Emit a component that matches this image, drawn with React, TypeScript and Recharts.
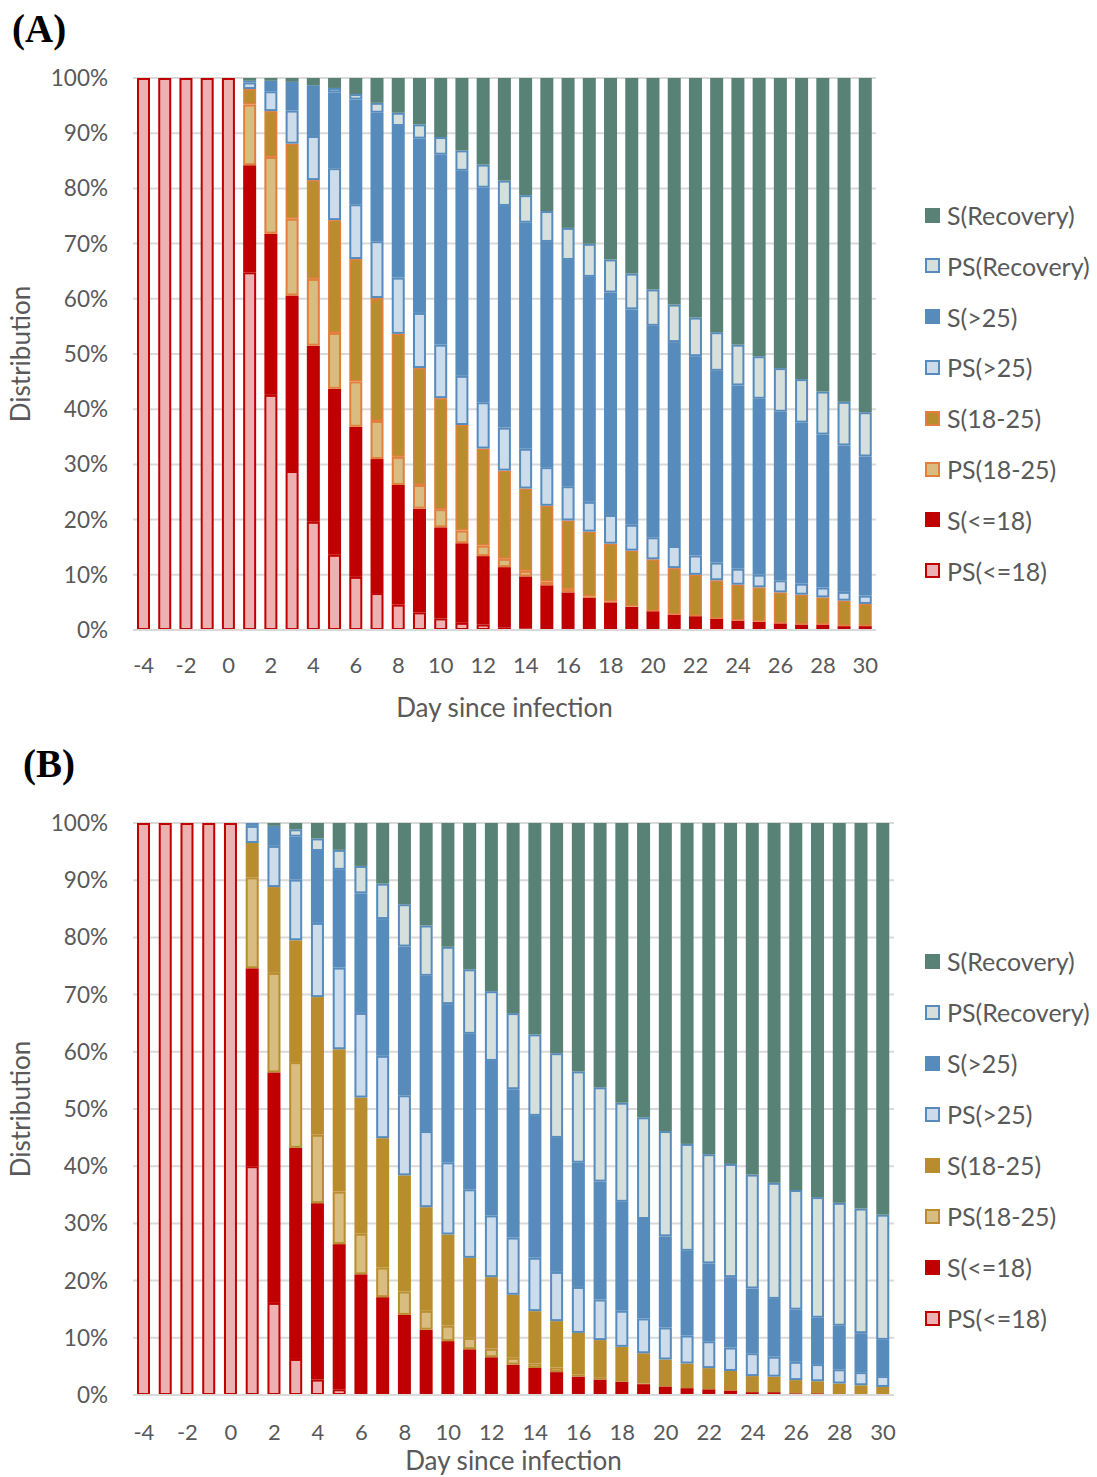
import React from "react";
import { BarChart, Bar, XAxis, YAxis, CartesianGrid } from "recharts";

// Day since infection (categories)
const DAYS = [-4, -3, -2, -1, 0, 1, 2, 3, 4, 5, 6, 7, 8, 9, 10, 11, 12, 13, 14, 15, 16, 17, 18, 19, 20, 21, 22, 23, 24, 25, 26, 27, 28, 29, 30];

const Y_TICKS = [0, 0.1, 0.2, 0.3, 0.4, 0.5, 0.6, 0.7, 0.8, 0.9, 1];

// Panel A, share (%) per day
const A_PS_LE18 = [100, 100, 100, 100, 100, 64.8, 42.6, 28.8, 19.6, 13.6, 9.6, 6.7, 4.6, 3.2, 2.1, 1.3, 1.0, 0.5, 0.3, 0.1, 0, 0, 0, 0, 0, 0, 0, 0, 0, 0, 0, 0, 0, 0, 0];
const A_S_LE18 = [0, 0, 0, 0, 0, 19.4, 29.2, 31.8, 31.9, 30.0, 27.1, 24.3, 21.7, 18.8, 16.5, 14.4, 12.4, 10.9, 9.4, 8.0, 6.8, 5.8, 5.0, 4.2, 3.4, 2.8, 2.5, 2.0, 1.7, 1.5, 1.2, 1.0, 1.0, 0.7, 0.7];
const A_PS_18_25 = [0, 0, 0, 0, 0, 11.0, 13.9, 13.9, 12.1, 10.1, 8.2, 6.9, 5.1, 4.3, 3.3, 2.3, 1.9, 1.5, 1.0, 0.7, 0.6, 0.3, 0.2, 0.1, 0, 0, 0, 0, 0, 0, 0, 0, 0, 0, 0];
const A_S_18_25 = [0, 0, 0, 0, 0, 2.8, 8.3, 13.6, 17.9, 20.4, 22.1, 22.3, 22.3, 21.2, 20.1, 19.1, 17.6, 16.0, 14.9, 13.7, 12.4, 11.7, 10.4, 10.1, 9.4, 8.4, 7.5, 7.0, 6.5, 6.2, 5.6, 5.4, 4.9, 4.6, 4.0];
const A_PS_GT25 = [0, 0, 0, 0, 0, 1.2, 3.6, 6.0, 8.0, 9.4, 9.9, 10.3, 10.2, 10.0, 9.7, 8.9, 8.4, 7.8, 7.2, 7.0, 6.2, 5.4, 5.2, 4.7, 4.0, 4.0, 3.5, 3.2, 2.9, 2.3, 2.2, 2.0, 1.8, 1.6, 1.5];
const A_S_GT25 = [0, 0, 0, 0, 0, 0.3, 1.9, 5.2, 9.2, 13.7, 18.9, 23.3, 27.5, 31.6, 34.4, 37.1, 38.9, 40.2, 40.9, 40.8, 40.9, 40.7, 40.2, 39.1, 38.3, 36.9, 36.1, 34.7, 33.2, 31.8, 30.5, 29.2, 27.7, 26.5, 25.1];
const A_PS_REC = [0, 0, 0, 0, 0, 0, 0, 0, 0, 0.8, 1.0, 1.8, 2.4, 2.6, 3.2, 3.7, 4.2, 4.6, 5.0, 5.6, 5.8, 6.0, 6.0, 6.5, 6.6, 6.8, 7.0, 7.0, 7.4, 7.7, 7.9, 7.9, 7.8, 7.9, 8.0];
const A_S_REC = [0, 0, 0, 0, 0, 0.5, 0.5, 0.7, 1.3, 1.8, 2.9, 4.5, 6.3, 8.4, 10.7, 13.1, 15.7, 18.6, 21.2, 24.1, 27.1, 30.0, 32.8, 35.5, 38.3, 41.0, 43.4, 46.0, 48.3, 50.3, 52.5, 54.6, 56.8, 58.6, 60.3];

// Panel B, share (%) per day
const B_PS_LE18 = [100, 100, 100, 100, 100, 40.0, 16.1, 6.3, 2.7, 1.0, 0, 0, 0, 0, 0, 0, 0, 0, 0, 0, 0, 0, 0, 0, 0, 0, 0, 0, 0, 0, 0, 0, 0, 0, 0];
const B_S_LE18 = [0, 0, 0, 0, 0, 34.6, 40.3, 36.9, 30.9, 25.4, 21.1, 17.1, 14.0, 11.4, 9.4, 8.0, 6.6, 5.3, 4.7, 4.0, 3.2, 2.7, 2.3, 1.9, 1.5, 1.2, 1.0, 0.8, 0.5, 0.5, 0.3, 0.3, 0, 0, 0];
const B_PS_18_25 = [0, 0, 0, 0, 0, 15.9, 17.4, 15.0, 12.0, 9.2, 7.1, 5.2, 4.1, 3.3, 2.7, 2.0, 1.5, 1.2, 0.8, 0.8, 0.4, 0.3, 0, 0.1, 0, 0, 0, 0, 0, 0, 0, 0, 0, 0, 0];
const B_S_18_25 = [0, 0, 0, 0, 0, 6.0, 15.0, 21.3, 24.1, 24.9, 23.8, 22.6, 20.3, 18.1, 15.9, 14.0, 12.5, 11.0, 9.1, 8.1, 7.2, 6.6, 6.1, 5.3, 4.7, 4.3, 3.7, 3.4, 2.8, 2.7, 2.3, 2.1, 2.0, 1.7, 1.4];
const B_PS_GT25 = [0, 0, 0, 0, 0, 3.0, 7.2, 10.6, 13.0, 14.3, 14.8, 14.4, 14.0, 13.3, 12.6, 12.0, 10.8, 10.0, 9.3, 8.6, 8.0, 7.1, 6.3, 6.1, 5.6, 4.9, 4.7, 4.1, 4.0, 3.5, 3.2, 3.0, 2.5, 2.3, 1.9];
const B_S_GT25 = [0, 0, 0, 0, 0, 0.5, 3.5, 7.5, 12.6, 17.1, 20.9, 23.9, 26.0, 27.1, 27.6, 27.2, 27.0, 25.9, 24.7, 23.4, 21.6, 20.6, 19.0, 17.4, 15.9, 14.8, 13.6, 12.3, 11.3, 10.1, 9.1, 8.1, 7.6, 6.8, 6.3];
const B_PS_REC = [0, 0, 0, 0, 0, 0, 0, 1.3, 2.2, 3.5, 4.8, 6.2, 7.4, 8.8, 10.0, 11.3, 12.2, 13.3, 14.2, 14.8, 15.9, 16.5, 17.3, 17.8, 18.4, 18.7, 19.1, 19.8, 19.9, 20.3, 20.9, 21.1, 21.5, 21.8, 21.8];
const B_S_REC = [0, 0, 0, 0, 0, 0, 0.5, 1.1, 2.7, 4.7, 7.5, 10.6, 14.2, 17.9, 21.6, 25.6, 29.4, 33.2, 36.8, 40.2, 43.2, 46.2, 48.8, 51.5, 53.8, 56.1, 57.9, 59.6, 61.4, 62.9, 64.1, 65.4, 66.4, 67.4, 68.2];

const RED = "#c00000";
const PINK = "#eeb1b1";
const BLUE = "#568bbc";
const LIGHT_BLUE = "#cddceb";
const GREEN = "#588276";
const GREY_GREEN = "#d5e0dd";
const ORANGE = "#e27f3d";
const GOLD = "#b98c2d";
const TAN = "#d9bc80";

const TEXT = "#595959";
const SANS = "Lato, 'Open Sans', sans-serif";

type Series = { key: string; name: string; fill: string; border?: string; bw?: number };

// bottom-to-top stacking order
const SERIES_A: Series[] = [
  { key: "psLe18", name: "PS(<=18)", fill: PINK, border: RED, bw: 2 },
  { key: "sLe18", name: "S(<=18)", fill: RED },
  { key: "ps1825", name: "PS(18-25)", fill: TAN, border: ORANGE, bw: 2 },
  { key: "s1825", name: "S(18-25)", fill: GOLD, border: ORANGE, bw: 1.5 },
  { key: "psGt25", name: "PS(>25)", fill: LIGHT_BLUE, border: BLUE, bw: 2 },
  { key: "sGt25", name: "S(>25)", fill: BLUE },
  { key: "psRec", name: "PS(Recovery)", fill: GREY_GREEN, border: BLUE, bw: 2 },
  { key: "sRec", name: "S(Recovery)", fill: GREEN },
];

const SERIES_B: Series[] = SERIES_A.map((s) => {
  if (s.key === "ps1825") return { ...s, border: GOLD };
  if (s.key === "s1825") return { ...s, border: undefined, bw: undefined };
  return s;
});

const buildRows = (cols: Record<string, number[]>) =>
  DAYS.map((d, i) => {
    const row: Record<string, string | number> = { day: String(d) };
    Object.keys(cols).forEach((k) => (row[k] = cols[k][i]));
    return row;
  });

const dataA = buildRows({
  psLe18: A_PS_LE18, sLe18: A_S_LE18, ps1825: A_PS_18_25, s1825: A_S_18_25,
  psGt25: A_PS_GT25, sGt25: A_S_GT25, psRec: A_PS_REC, sRec: A_S_REC,
});
const dataB = buildRows({
  psLe18: B_PS_LE18, sLe18: B_S_LE18, ps1825: B_PS_18_25, s1825: B_S_18_25,
  psGt25: B_PS_GT25, sGt25: B_S_GT25, psRec: B_PS_REC, sRec: B_S_REC,
});

// segment with its border drawn inside the bar outline
const boxShape = (s: Series) => (props: any) => {
  const { x, y, width, height } = props;
  if (!height || height <= 0.05 || !width) return <g />;
  if (!s.border) return <rect x={x} y={y} width={width} height={height} fill={s.fill} />;
  const bw = s.bw || 2;
  if (height <= bw * 2) return <rect x={x} y={y} width={width} height={height} fill={s.border} />;
  return (
    <rect x={x + bw / 2} y={y + bw / 2} width={width - bw} height={height - bw}
      fill={s.fill} stroke={s.border} strokeWidth={bw} />
  );
};

function LegendBox({ series, top, step }: { series: Series[]; top: number; step: number }) {
  const items = [...series].reverse();
  return (
    <div style={{ position: "absolute", left: 925, top, fontFamily: SANS, fontSize: 25, color: TEXT }}>
      {items.map((s, i) => (
        <div key={s.key} style={{ position: "absolute", top: i * step - 16, height: 32, display: "flex", alignItems: "center", whiteSpace: "nowrap" }}>
          <span style={{
            display: "inline-block", width: 15, height: 15, boxSizing: "border-box",
            background: s.fill, border: s.border ? `2px solid ${s.border}` : "none", marginRight: 7,
          }} />
          {s.name}
        </div>
      ))}
    </div>
  );
}

type PanelProps = {
  letter: string; letterLeft: number; letterTop: number; top: number; height: number; data: any[]; series: Series[];
  right: number; axisH: number; tickMargin: number; labelOffset: number; legendTop: number; legendStep: number;
};

function Panel(p: PanelProps) {
  const plotTop = 78;
  const plotBottom = p.height - 10 - p.axisH;
  return (
    <div style={{ position: "absolute", left: 0, top: p.top, width: 1097, height: p.height }}>
      <div style={{ position: "absolute", left: p.letterLeft, top: p.letterTop, fontFamily: "'Liberation Serif', 'Times New Roman', serif", fontWeight: "bold", fontSize: 39, whiteSpace: "nowrap" }}>
        {p.letter}
      </div>
      <div style={{
        position: "absolute", left: 20 - 100, top: (plotTop + plotBottom) / 2 - 18, width: 200, height: 36, lineHeight: "36px",
        textAlign: "center", transform: "rotate(-90deg)", fontFamily: SANS, fontSize: 26, color: TEXT,
      }}>
        Distribution
      </div>
      <BarChart width={1097} height={p.height} data={p.data} stackOffset="expand"
        margin={{ top: plotTop, right: p.right, bottom: 10, left: 73 }} barSize={13}>
        <CartesianGrid vertical={false} stroke="#d9d9d9" strokeWidth={2} />
        <XAxis dataKey="day" interval={1} height={p.axisH} tickLine={false}
          axisLine={{ stroke: "#d9d9d9", strokeWidth: 2 }} tickMargin={p.tickMargin}
          tick={{ fill: TEXT, fontSize: 22, fontFamily: SANS }}
          label={{ value: "Day since infection", position: "insideBottom", offset: p.labelOffset, fill: TEXT, fontSize: 26, fontFamily: SANS }} />
        <YAxis type="number" domain={[0, 1]} ticks={Y_TICKS} width={60} tickLine={false} axisLine={false}
          tickMargin={19} tick={{ fill: TEXT, fontSize: 22.5, fontFamily: SANS }}
          tickFormatter={(v: number) => `${Math.round(v * 100)}%`} />
        {p.series.map((s) => (
          <Bar key={s.key} dataKey={s.key} name={s.name} stackId="all" fill={s.fill}
            shape={boxShape(s)} isAnimationActive={false} />
        ))}
      </BarChart>
      <LegendBox series={p.series} top={p.legendTop} step={p.legendStep} />
    </div>
  );
}

export default function App() {
  return (
    <div style={{ position: "absolute", left: 0, top: 0, width: 1097, height: 1477, background: "#fff", overflow: "hidden" }}>
      <Panel letter="(A)" letterLeft={12} letterTop={6} top={0} height={740} data={dataA} series={SERIES_A}
        right={221} axisH={100} tickMargin={21} labelOffset={13} legendTop={215} legendStep={50.8} />
      <Panel letter="(B)" letterLeft={23} letterTop={-4} top={745} height={732} data={dataB} series={SERIES_B}
        right={203} axisH={72} tickMargin={23} labelOffset={-3} legendTop={216} legendStep={51} />
    </div>
  );
}
